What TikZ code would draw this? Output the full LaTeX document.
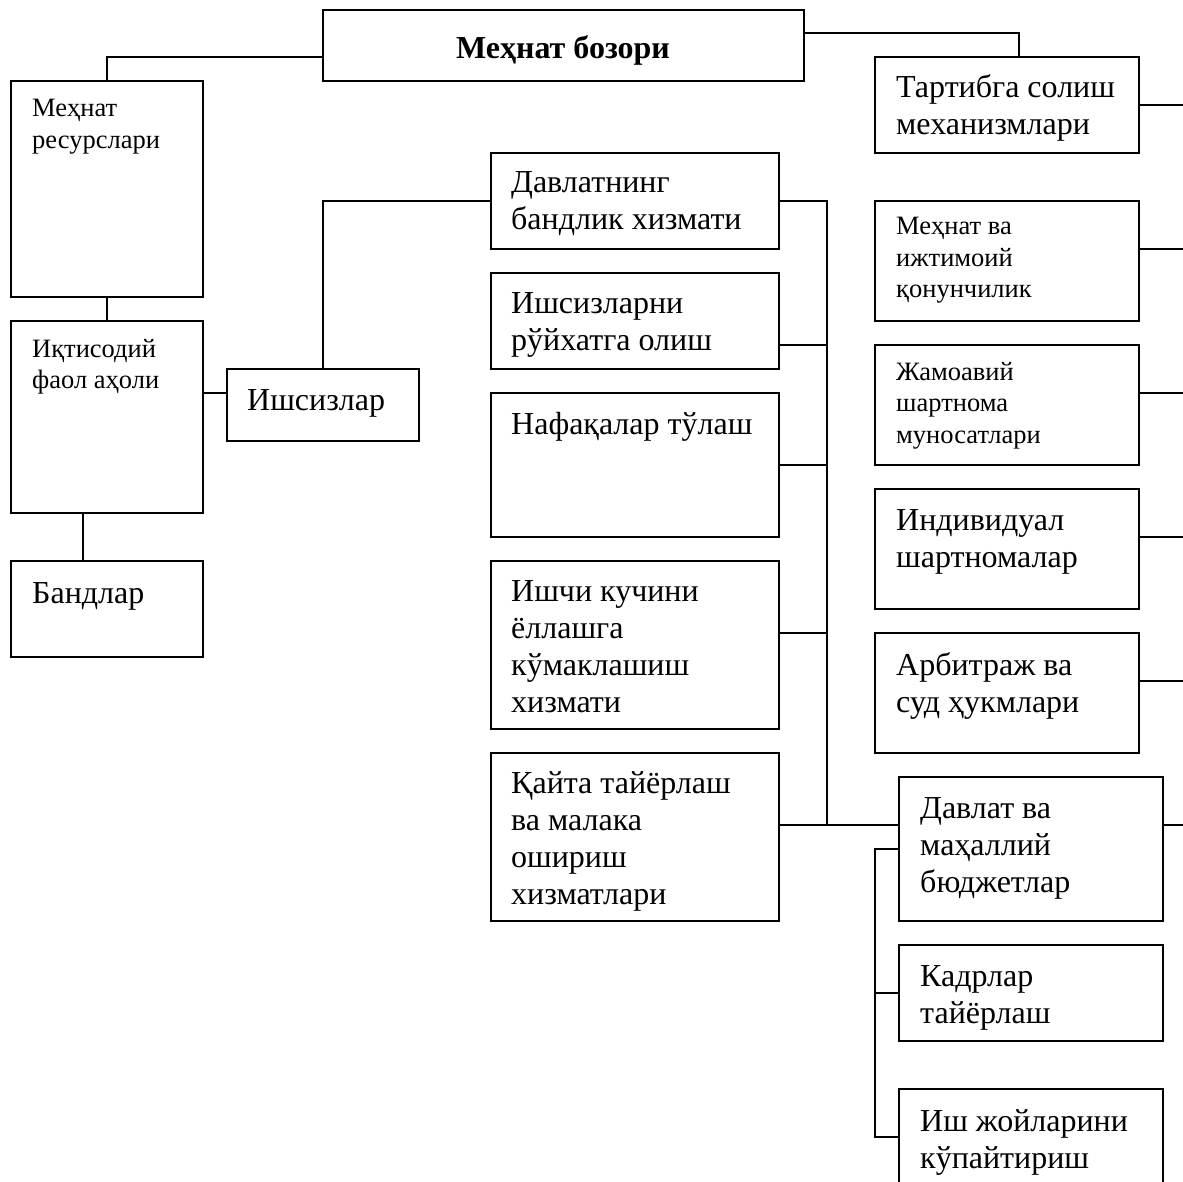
\documentclass[tikz,border=0pt]{standalone}
\usepackage{fontspec}
\setmainfont{Liberation Serif}

\begin{document}
\begin{tikzpicture}[x=1pt, y=-1pt]
		\tikzstyle {frame} = [draw, line width=1.4pt, anchor=north west, inner sep=0pt, outer sep=0pt]
		\tikzstyle {big} = [anchor=base west, align=left, inner sep=0pt, font=\fontsize{32}{37}\selectfont]
		\tikzstyle {small} = [anchor=base west, align=left, inner sep=0pt, font=\fontsize{26.5}{31.5}\selectfont]
		\tikzstyle {link} = [line width=1.4pt]

		\useasboundingbox (0,0) rectangle (1183,1182);
		\clip (0,0) rectangle (1183,1182);

		% top
		\node[frame, minimum width=481pt, minimum height=71pt] (bozor) at (323,10) {};
		\node[anchor=base, inner sep=0pt, font=\fontsize{32}{37}\selectfont\bfseries] (bozor-t) at (563,59) {Меҳнат бозори};

		% left column (base = last line)
		\node[frame, minimum width=192pt, minimum height=216pt] (resurs) at (11,81) {};
		\node[small] (resurs-t) at ([shift={(21,67.5)}]resurs.north west) {Меҳнат\\ресурслари};

		\node[frame, minimum width=192pt, minimum height=192pt] (faol) at (11,321) {};
		\node[small] (faol-t) at ([shift={(21,67.5)}]faol.north west) {Иқтисодий\\фаол аҳоли};

		\node[frame, minimum width=192pt, minimum height=96pt] (band) at (11,561) {};
		\node[big] (band-t) at ([shift={(21,42)}]band.north west) {Бандлар};

		\node[frame, minimum width=192pt, minimum height=72pt] (ishsiz) at (227,369) {};
		\node[big] (ishsiz-t) at ([shift={(20,41)}]ishsiz.north west) {Ишсизлар};

		% middle column
		\node[frame, minimum width=288pt, minimum height=96pt] (davlat) at (491,153) {};
		\node[big] (davlat-t) at ([shift={(20,77)}]davlat.north west) {Давлатнинг\\бандлик хизмати};

		\node[frame, minimum width=288pt, minimum height=96pt] (royxat) at (491,273) {};
		\node[big] (royxat-t) at ([shift={(20,77)}]royxat.north west) {Ишсизларни\\рўйхатга олиш};

		\node[frame, minimum width=288pt, minimum height=144pt] (nafaqa) at (491,393) {};
		\node[big] (nafaqa-t) at ([shift={(20,41)}]nafaqa.north west) {Нафақалар тўлаш};

		\node[frame, minimum width=288pt, minimum height=168pt] (kumak) at (491,561) {};
		\node[big] (kumak-t) at ([shift={(20,151)}]kumak.north west) {Ишчи кучини\\ёллашга\\кўмаклашиш\\хизмати};

		\node[frame, minimum width=288pt, minimum height=168pt] (qayta) at (491,753) {};
		\node[big] (qayta-t) at ([shift={(20,151)}]qayta.north west) {Қайта тайёрлаш\\ва малака\\ошириш\\хизматлари};

		% right column
		\node[frame, minimum width=264pt, minimum height=96pt] (tartib) at (875,57) {};
		\node[big] (tartib-t) at ([shift={(21,78)}]tartib.north west) {Тартибга солиш\\механизмлари};

		\node[frame, minimum width=264pt, minimum height=120pt] (qonun) at (875,201) {};
		\node[small] (qonun-t) at ([shift={(21,97)}]qonun.north west) {Меҳнат ва\\ижтимоий\\қонунчилик};

		\node[frame, minimum width=264pt, minimum height=120pt] (jamoa) at (875,345) {};
		\node[small] (jamoa-t) at ([shift={(21,98)}]jamoa.north west) {Жамоавий\\шартнома\\муносатлари};

		\node[frame, minimum width=264pt, minimum height=120pt] (indiv) at (875,489) {};
		\node[big] (indiv-t) at ([shift={(21,78)}]indiv.north west) {Индивидуал\\шартномалар};

		\node[frame, minimum width=264pt, minimum height=120pt] (arbitr) at (875,633) {};
		\node[big] (arbitr-t) at ([shift={(21,79)}]arbitr.north west) {Арбитраж ва\\суд ҳукмлари};

		\node[frame, minimum width=264pt, minimum height=144pt] (budjet) at (899,777) {};
		\node[big] (budjet-t) at ([shift={(21,115)}]budjet.north west) {Давлат ва\\маҳаллий\\бюджетлар};

		\node[frame, minimum width=264pt, minimum height=96pt] (kadr) at (899,945) {};
		\node[big] (kadr-t) at ([shift={(21,78)}]kadr.north west) {Кадрлар\\тайёрлаш};

		\node[frame, minimum width=264pt, minimum height=96pt] (ishjoy) at (899,1089) {};
		\node[big] (ishjoy-t) at ([shift={(21,79)}]ishjoy.north west) {Иш жойларини\\кўпайтириш};

		% links
		\coordinate (bus) at (827,825);

		\draw[link] ([yshift=-11.5pt]bozor.west) -| (resurs.north);
		\draw[link] ([yshift=12.5pt]bozor.east) -| ([xshift=12pt]tartib.north);
		\draw[link] (resurs.south) -- (faol.north);
		\draw[link] ([xshift=-24pt]faol.south) -- ([xshift=-24pt]band.north);
		\draw[link] ([yshift=24pt]faol.east) -- ([yshift=12pt]ishsiz.west);
		\draw[link] (ishsiz.north) |- (davlat.west);

		\draw[link] (davlat.east) -| (bus);
		\draw[link] ([yshift=-24pt]royxat.east) -- +(48,0);
		\draw[link] (nafaqa.east) -- +(48,0);
		\draw[link] ([yshift=12pt]kumak.east) -- +(48,0);
		\draw[link] ([yshift=12pt]qayta.east) -- ([yshift=24pt]budjet.west);

		\draw[link] (budjet.west) -- +(-24,0) |- (ishjoy.west);
		\draw[link] (kadr.west) -- +(-24,0);

		\draw[link] (tartib.east) -- +(50,0);
		\draw[link] ([yshift=12pt]qonun.east) -- +(50,0);
		\draw[link] ([yshift=12pt]jamoa.east) -- +(50,0);
		\draw[link] ([yshift=12pt]indiv.east) -- +(50,0);
		\draw[link] ([yshift=12pt]arbitr.east) -- +(50,0);
		\draw[link] ([yshift=24pt]budjet.east) -- +(30,0);
\end{tikzpicture}
\end{document}
